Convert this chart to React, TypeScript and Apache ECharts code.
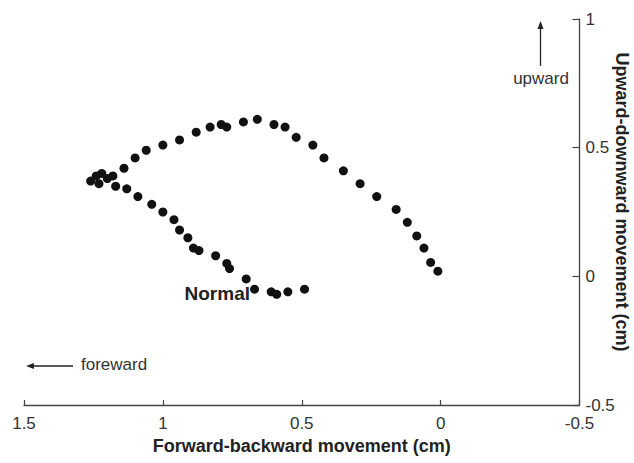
import React, { useEffect, useRef } from "react";
import * as echarts from "echarts";

const xTicks = [1.5, 1, 0.5, 0, -0.5];
const yTicks = [-0.5, 0, 0.5, 1];

// Trajectory points (forward-backward cm, upward-downward cm)
const upperX = [0.01, 0.036, 0.06, 0.086, 0.12, 0.16, 0.23, 0.29, 0.35, 0.42, 0.46, 0.52, 0.56, 0.6, 0.66, 0.71, 0.77, 0.79, 0.83, 0.88, 0.94, 1.0, 1.06, 1.1, 1.14];
const upperY = [0.02, 0.054, 0.11, 0.157, 0.21, 0.26, 0.31, 0.36, 0.41, 0.46, 0.51, 0.54, 0.58, 0.59, 0.61, 0.6, 0.58, 0.59, 0.58, 0.56, 0.53, 0.51, 0.49, 0.46, 0.42];
const clusterX = [1.18, 1.2, 1.22, 1.24, 1.26, 1.23, 1.17];
const clusterY = [0.39, 0.38, 0.4, 0.39, 0.37, 0.36, 0.35];
const lowerX = [1.13, 1.09, 1.04, 1.0, 0.96, 0.94, 0.91, 0.89, 0.87, 0.81, 0.77, 0.76, 0.7, 0.67, 0.61, 0.59, 0.55, 0.49];
const lowerY = [0.34, 0.31, 0.28, 0.25, 0.22, 0.18, 0.15, 0.11, 0.1, 0.08, 0.05, 0.03, -0.01, -0.05, -0.06, -0.07, -0.06, -0.05];

const xName = "Forward-backward movement (cm)";
const yName = "Upward-downward movement (cm)";

export default function App() {
  const ref = useRef<HTMLDivElement>(null);
  useEffect(() => {
    if (!ref.current) return;
    const chart = echarts.init(ref.current, undefined, { renderer: "svg" });
    const pts: number[][] = [];
    [[upperX, upperY], [clusterX, clusterY], [lowerX, lowerY]].forEach(([xs, ys]) => {
      xs.forEach((x, i) => pts.push([x, ys[i]]));
    });
    const font = "'Liberation Sans', Arial, Helvetica, sans-serif";
    const axisColor = "#444";
    chart.setOption({
      animation: false,
      backgroundColor: "#fff",
      textStyle: { fontFamily: font },
      grid: { left: 24, right: 54.5, top: 19, bottom: 58 },
      xAxis: {
        type: "value",
        inverse: true,
        min: xTicks[xTicks.length - 1],
        max: xTicks[0],
        interval: 0.5,
        name: xName,
        nameLocation: "middle",
        nameGap: 28,
        nameTextStyle: { fontSize: 18, fontWeight: "bold", color: "#222", fontFamily: font },
        axisLine: { show: true, onZero: false, lineStyle: { color: axisColor, width: 1.3 } },
        axisTick: { show: true, inside: true, length: 5, lineStyle: { color: axisColor, width: 1.2 } },
        axisLabel: { fontSize: 17, color: "#333", margin: 10, fontFamily: font, formatter: (v: number) => String(v) },
        splitLine: { show: false },
      },
      yAxis: {
        type: "value",
        position: "right",
        min: yTicks[0],
        max: yTicks[yTicks.length - 1],
        interval: 0.5,
        axisLine: { show: true, onZero: false, lineStyle: { color: axisColor, width: 1.3 } },
        axisTick: { show: true, inside: true, length: 7, lineStyle: { color: axisColor, width: 1.2 } },
        axisLabel: { fontSize: 17, color: "#333", margin: 6, fontFamily: font, formatter: (v: number) => String(v) },
        splitLine: { show: false },
      },
      series: [
        {
          type: "scatter",
          data: pts,
          symbol: "circle",
          symbolSize: 9,
          itemStyle: { color: "#111", opacity: 1 },
        },
      ],
      graphic: [
        {
          type: "text",
          x: 622,
          y: 202,
          rotation: -Math.PI / 2,
          style: { text: yName, font: `bold 18px ${font}`, fill: "#222", align: "center", verticalAlign: "middle" },
        },
        {
          type: "text",
          x: 250,
          y: 293,
          style: { text: "Normal", font: `bold 19px ${font}`, fill: "#222", align: "right", verticalAlign: "middle" },
        },
        { type: "line", shape: { x1: 540.5, y1: 66, x2: 540.5, y2: 27 }, style: { stroke: "#222", lineWidth: 1.3 } },
        { type: "polygon", shape: { points: [[540.5, 21], [537.5, 29], [543.5, 29]] }, style: { fill: "#222" } },
        {
          type: "text",
          x: 541,
          y: 78,
          style: { text: "upward", font: `17px ${font}`, fill: "#333", align: "center", verticalAlign: "middle" },
        },
        { type: "line", shape: { x1: 32, y1: 366, x2: 73, y2: 366 }, style: { stroke: "#222", lineWidth: 1.3 } },
        { type: "polygon", shape: { points: [[26, 366], [34, 363], [34, 369]] }, style: { fill: "#222" } },
        {
          type: "text",
          x: 81,
          y: 364,
          style: { text: "foreward", font: `17px ${font}`, fill: "#333", align: "left", verticalAlign: "middle" },
        },
      ],
    });
    return () => chart.dispose();
  }, []);
  return <div ref={ref} style={{ position: "fixed", left: 0, top: 0, width: 634, height: 463 }} />;
}
